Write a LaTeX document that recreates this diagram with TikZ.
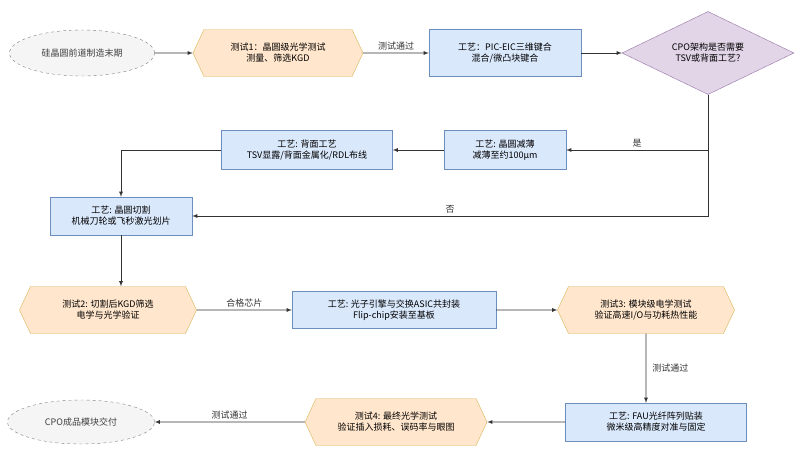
\documentclass[tikz,border=0pt]{standalone}
\usepackage{fontspec}
\setmainfont{Noto Sans CJK SC}
\usetikzlibrary{shapes.geometric,shapes.symbols,positioning}
\definecolor{procfill}{HTML}{DAE8FC}
\definecolor{procline}{HTML}{6C8EBF}
\definecolor{testfill}{HTML}{FFE6CC}
\definecolor{testline}{HTML}{D6B656}
\definecolor{decfill}{HTML}{E1D5E7}
\definecolor{decline}{HTML}{9673A6}
\tikzset{
  proc/.style={draw=procline,fill=procfill,align=center,font=\small,inner sep=2pt},
  test/.style={signal,signal to=east and west,signal pointer angle=130,draw=testline,fill=testfill,align=center,font=\small,minimum height=47pt,inner xsep=1pt},
  term/.style={ellipse,draw=gray,dashed,fill=gray!8,align=center,font=\small,text=black!75},
  flow/.style={-latex,thick,black!80},
  lbl/.style={font=\small,inner sep=2pt}
}
\begin{document}
\begin{tikzpicture}[x=1pt,y=-1pt]
\useasboundingbox (0,0) rectangle (800,451);

% nodes
\node[term,minimum width=145pt,minimum height=46pt] (start) at (82,53) {硅晶圆前道制造末期};
\node[test,minimum width=170pt] (test1) at (278,53) {测试1：晶圆级光学测试\\测量、筛选KGD};
\node[proc,minimum width=152pt,minimum height=47pt] (bond) at (505,53) {工艺：PIC-EIC三维键合\\混合/微凸块键合};
\node[diamond,aspect=2.07,draw=decline,fill=decfill,align=center,font=\small,minimum width=172pt,minimum height=83pt,inner sep=0pt] (ask) at (708,53) {CPO架构是否需要\\TSV或背面工艺?};
\node[proc,minimum width=122pt,minimum height=39pt] (thin) at (505,150) {工艺: 晶圆减薄\\减薄至约100μm};
\node[proc,minimum width=171pt,minimum height=39pt] (back) at (307,150) {工艺: 背面工艺\\TSV显露/背面金属化/RDL布线};
\node[proc,minimum width=142pt,minimum height=38pt] (dice) at (121,216) {工艺: 晶圆切割\\机械刀轮或飞秒激光划片};
\node[test,minimum width=177pt] (test2) at (108,310) {测试2: 切割后KGD筛选\\电学与光学验证};
\node[proc,minimum width=204pt,minimum height=37pt] (flip) at (394,310) {工艺: 光子引擎与交换ASIC共封装\\Flip-chip安装至基板};
\node[test,minimum width=177pt] (test3) at (646,310) {测试3: 模块级电学测试\\验证高速I/O与功耗热性能};
\node[proc,minimum width=181pt,minimum height=38pt] (fau) at (656,422) {工艺: FAU光纤阵列贴装\\微米级高精度对准与固定};
\node[test,minimum width=182pt] (test4) at (396,422) {测试4: 最终光学测试\\验证插入损耗、误码率与眼图};
\node[term,minimum width=147pt,minimum height=44pt] (finish) at (81,422) {CPO成品模块交付};

% connectors
\draw[flow] (start) -- (test1);
\draw[flow] (test1) -- node[lbl,above] {测试通过} (bond);
\draw[flow] (bond) -- (ask);
\draw[flow] (ask.south) |- node[lbl,above,pos=0.75] {是} (thin);
\draw[flow] (ask.south) |- node[lbl,above,pos=0.75] {否} (dice);
\draw[flow] (thin) -- (back);
\draw[flow] (back) -| (dice);
\draw[flow] (dice) -- (dice |- test2.north);
\draw[flow] (test2) -- node[lbl,above] {合格芯片} (flip);
\draw[flow] (flip) -- (test3);
\draw[flow] (test3) -- node[lbl,right=4pt] {测试通过} (test3 |- fau.north);
\draw[flow] (fau) -- (test4);
\draw[flow] (test4) -- node[lbl,above] {测试通过} (finish);
\end{tikzpicture}
\end{document}
